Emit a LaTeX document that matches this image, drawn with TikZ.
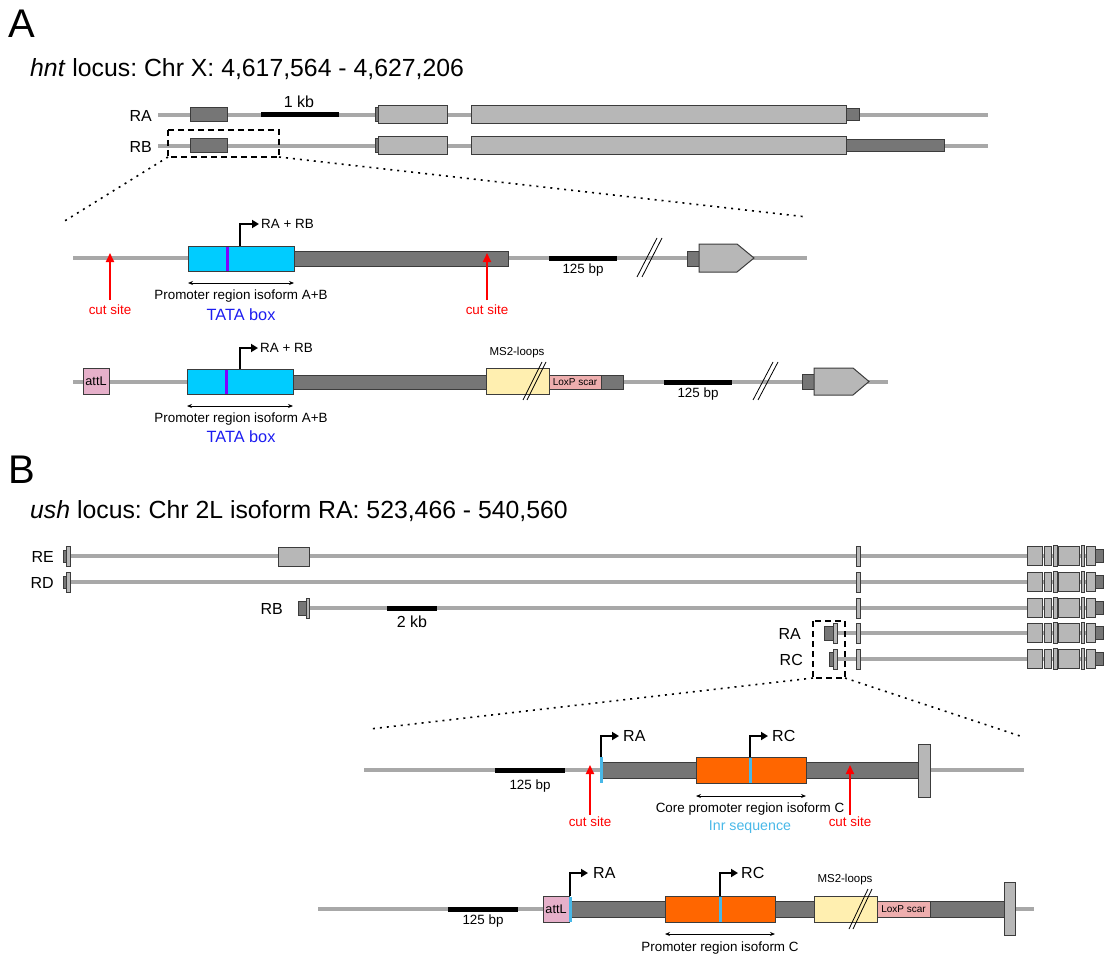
\documentclass[tikz,border=0pt]{standalone}
\usepackage{fontspec}
\setmainfont{Liberation Sans}
\usetikzlibrary{arrows.meta}
\frenchspacing
\definecolor{lgray}{HTML}{A8A8A8}
\definecolor{exl}{HTML}{B7B7B7}
\definecolor{exd}{HTML}{767676}
\definecolor{edge}{HTML}{3C3C3C}
\definecolor{cyanbox}{HTML}{00CCFF}
\definecolor{tata}{HTML}{7F00FF}
\definecolor{tatatext}{HTML}{1C1CF0}
\definecolor{orangebox}{HTML}{FF6600}
\definecolor{inr}{HTML}{48B8E8}
\definecolor{attl}{HTML}{E6B0CA}
\definecolor{loxp}{HTML}{EEAEAE}
\definecolor{ms}{HTML}{FFEFB0}
\definecolor{cutred}{HTML}{FF0000}
\begin{document}
\frenchspacing
\begin{tikzpicture}[x=1pt,y=-1pt,
  gline/.style={draw=lgray,line width=4},
  exonL/.style={fill=exl,draw=edge,line width=1},
  exonD/.style={fill=exd,draw=edge,line width=1},
  scalebar/.style={line width=5,black},
  tss/.style={line width=2,-{Triangle[length=7,width=8]}},
  cut/.style={cutred,line width=2,-{Triangle[length=9,width=8]}},
  span/.style={line width=1,{Stealth[length=5,width=4]}-{Stealth[length=5,width=4]}},
  dotz/.style={dash pattern=on 2 off 5,line width=1.6},
  dashbox/.style={dash pattern=on 6 off 4,line width=1.6},
  brk/.style={line width=0.8},
  t13/.style={inner sep=0,font=\fontsize{13.4}{15}\selectfont},
  t16/.style={inner sep=0,font=\fontsize{16}{18}\selectfont},
  tsmall/.style={inner sep=0,font=\fontsize{11.5}{13}\selectfont},
  tlox/.style={inner sep=0,font=\fontsize{10}{12}\selectfont},
  cuttext/.style={t13,text=cutred},
  big/.style={inner sep=0,anchor=base west,font=\fontsize{40}{42}\selectfont},
  title/.style={inner sep=0,anchor=base west,font=\fontsize{24.8}{28}\selectfont\frenchspacing}]
\useasboundingbox (0,0) rectangle (1109,955);

% ================= A =================
\node[big] (labA) at (8,38) {A};
\node[title] (titA) at (30,77) {\textit{hnt} locus: Chr X: 4,617,564 - 4,627,206};

% RA
\node[t16,anchor=east] (ra) at (152,116) {RA};
\draw[gline] (158,115) -- (988,115);
\draw[exonD] (190,108) rectangle (227,122);
\draw[scalebar] (261,115) -- (339,115);
\node[t16] (kb1) at (299,102) {1 kb};
\draw[exonD] (375,108) rectangle (380,122);
\draw[exonL] (378,106) rectangle (447,124);
\draw[exonL] (471,106) rectangle (846,124);
\draw[exonD] (846,109) rectangle (859,121);
% RB
\node[t16,anchor=east] (rb) at (152,147) {RB};
\draw[gline] (158,146) -- (988,146);
\draw[exonD] (190,139) rectangle (227,153);
\draw[exonD] (375,139) rectangle (380,153);
\draw[exonL] (378,137) rectangle (447,155);
\draw[exonL] (471,137) rectangle (846,155);
\draw[exonD] (846,140) rectangle (944,152);
% zoom box
\draw[dashbox] (168,130) rectangle (279,157);
\coordinate (zA1) at (168,157);
\coordinate (zA2) at (279,157);
\coordinate (zA3) at (63,222);
\coordinate (zA4) at (807,217);
\draw[dotz] (zA1) -- (zA3);
\draw[dotz] (zA2) -- (zA4);

% detail A1
\draw[gline] (73,258) -- (807,258);
\draw[exonD] (294,251) rectangle (508,266);
\draw[fill=cyanbox,draw=edge,line width=1] (188,246) rectangle (294,271);
\draw[tata,line width=3] (227.5,246.5) -- (227.5,270.5);
\draw[scalebar] (549,258) -- (617,258);
\node[t13] (bpA1) at (583,270) {125 bp};
\draw[brk] (637,277) -- (657,238);
\draw[brk] (642,277) -- (662,238);
\draw[exonD] (687,251) rectangle (699,266);
\draw[exonL] (699,244) -- (737,244) -- (754,258) -- (737,272) -- (699,272) -- cycle;
\draw[tss] (240,246) -- (240,224) -- (259,224);
\node[t13,anchor=west] (tssA1) at (261,224) {RA + RB};
\coordinate (cA1a) at (110,300);
\coordinate (cA1b) at (487,300);
\draw[cut] (cA1a) -- (110,253);
\draw[cut] (cA1b) -- (487,253);
\node[cuttext] (csA1) at (110,310) {cut site};
\node[cuttext] (csA2) at (487,310) {cut site};
\draw[span] (188,283) -- (294,283);
\node[t13] (prA1) at (241,296) {Promoter region isoform A+B};
\node[inner sep=0,font=\fontsize{16.3}{18}\selectfont,text=tatatext] (tbA1) at (241,315) {TATA box};

% detail A2
\draw[gline] (73,382) -- (888,382);
\node[draw=edge,fill=attl,line width=1,minimum width=26,minimum height=26,inner sep=0,font=\fontsize{12.6}{14}\selectfont] (attA) at (96,381) {attL};
\draw[exonD] (293,375) rectangle (623,389);
\draw[fill=cyanbox,draw=edge,line width=1] (187,369) rectangle (293,394);
\draw[tata,line width=3] (226.5,369.5) -- (226.5,393.5);
\draw[draw=edge,fill=ms,line width=1] (486,368) rectangle (549,394);
\node[tsmall] (msA) at (517,353) {MS2-loops};
\draw[brk] (523,400) -- (542,362);
\draw[brk] (527,400) -- (546,362);
\node[draw=edge,fill=loxp,line width=1,minimum width=52,minimum height=14,inner sep=0,tlox] (loxA) at (575,382) {LoxP scar};
\draw[scalebar] (664,382) -- (732,382);
\node[t13] (bpA2) at (698,394) {125 bp};
\draw[brk] (753,400) -- (773,362);
\draw[brk] (758,400) -- (778,362);
\draw[exonD] (802,374) rectangle (814,389);
\draw[exonL] (814,368) -- (853,368) -- (869,381.5) -- (853,395) -- (814,395) -- cycle;
\draw[tss] (240,369) -- (240,348) -- (258,348);
\node[t13,anchor=west] (tssA2) at (260,348) {RA + RB};
\draw[span] (187,406) -- (293,406);
\node[t13] (prA2) at (241,419) {Promoter region isoform A+B};
\node[inner sep=0,font=\fontsize{16.3}{18}\selectfont,text=tatatext] (tbA2) at (241,437) {TATA box};

% ================= B =================
\node[big] (labB) at (8,483) {B};
\node[title] (titB) at (30,518) {\textit{ush} locus: Chr 2L isoform RA: 523,466 - 540,560};

\draw[gline] (66,556) -- (1100,556);
\draw[gline] (66,582) -- (1100,582);
\draw[gline] (309,608) -- (1100,608);
\draw[gline] (837,633) -- (1100,633);
\draw[gline] (837,659) -- (1100,659);
\node[t16,anchor=east] (re) at (54,557) {RE};
\node[t16,anchor=east] (rd) at (54,583) {RD};
\node[t16,anchor=east] (rbB) at (283,609) {RB};
\node[t16,anchor=east] (raB) at (801,634) {RA};
\node[t16,anchor=east] (rcB) at (803,660) {RC};
\foreach \yy in {556,582} {
  \draw[exonD] (63,\yy-6) rectangle (66,\yy+6);
  \draw[exonL] (66,\yy-10) rectangle (70,\yy+10);
}
\draw[exonL] (278,547) rectangle (309,566);
\draw[exonD] (298,601) rectangle (306,615);
\draw[exonL] (306,598) rectangle (309,618);
\draw[scalebar] (387,608) -- (437,608);
\node[t16] (kb2) at (412,622) {2 kb};
\draw[exonD] (824,626) rectangle (833,640);
\draw[exonL] (833,623) rectangle (837,643);
\draw[exonD] (829,652) rectangle (833,666);
\draw[exonL] (833,649) rectangle (837,669);
\foreach \yy in {556,582,608,633,659} {
  \draw[exonL] (856,\yy-10) rectangle (860,\yy+10);
  \draw[exonL] (1027,\yy-9.5) rectangle (1042,\yy+9.5);
  \draw[exonL] (1044,\yy-9.5) rectangle (1051,\yy+9.5);
  \draw[exonL] (1053,\yy-10.5) rectangle (1057,\yy+10.5);
  \draw[exonL] (1058,\yy-9.5) rectangle (1079,\yy+9.5);
  \draw[exonL] (1081,\yy-10.5) rectangle (1084,\yy+10.5);
  \draw[exonL] (1086,\yy-9.5) rectangle (1095,\yy+9.5);
  \draw[exonD] (1095,\yy-6.5) rectangle (1103,\yy+6.5);
}
\draw[dashbox] (813,621) rectangle (845,678);
\coordinate (zB1) at (813,678);
\coordinate (zB2) at (845,678);
\coordinate (zB3) at (370,729);
\coordinate (zB4) at (1020,736);
\draw[dotz] (zB1) -- (zB3);
\draw[dotz] (zB2) -- (zB4);

% detail B1
\draw[gline] (364,770) -- (1024,770);
\draw[scalebar] (495,770) -- (565,770);
\node[t13] (bpB1) at (530,786) {125 bp};
\draw[exonD] (601,762) rectangle (918,778);
\draw[fill=orangebox,draw=edge,line width=1] (696,757) rectangle (806,783);
\draw[inr,line width=3] (750,757.5) -- (750,782.5);
\draw[inr,line width=3] (601,757) -- (601,783);
\draw[exonL] (918,744) rectangle (930,797);
\draw[tss] (601,757) -- (601,736) -- (619,736);
\node[t16,anchor=west] (tssB1a) at (623,736) {RA};
\draw[tss] (750,757) -- (750,736) -- (768,736);
\node[t16,anchor=west] (tssB1c) at (772,736) {RC};
\coordinate (cB1a) at (590,815);
\coordinate (cB1b) at (850,815);
\draw[cut] (cB1a) -- (590,765);
\draw[cut] (cB1b) -- (850,765);
\node[cuttext] (csB1) at (590,822) {cut site};
\node[cuttext] (csB2) at (850,822) {cut site};
\draw[span] (696,796) -- (806,796);
\node[t13] (prB1) at (750,809) {Core promoter region isoform C};
\node[inner sep=0,font=\fontsize{14.2}{16}\selectfont,text=inr] (inrB1) at (750,827) {Inr sequence};

% detail B2
\draw[gline] (318,909) -- (1034,909);
\draw[scalebar] (448,909) -- (518,909);
\node[t13] (bpB2) at (483,921) {125 bp};
\draw[exonD] (569,901) rectangle (1004,917);
\node[draw=edge,fill=attl,line width=1,minimum width=26,minimum height=26,inner sep=0,font=\fontsize{12.6}{14}\selectfont] (attB) at (556,909) {attL};
\draw[inr,line width=3] (570,896.5) -- (570,921.5);
\draw[fill=orangebox,draw=edge,line width=1] (665,896) rectangle (775,922);
\draw[inr,line width=3] (720,896.5) -- (720,921.5);
\draw[draw=edge,fill=ms,line width=1] (814,896) rectangle (877,922);
\node[tsmall] (msB) at (845,880) {MS2-loops};
\draw[brk] (849,929) -- (868,889);
\draw[brk] (853,929) -- (872,889);
\node[draw=edge,fill=loxp,line width=1,minimum width=53,minimum height=16,inner sep=0,tlox] (loxB) at (903.5,909) {LoxP scar};
\draw[exonL] (1004,882) rectangle (1015,935);
\draw[tss] (570,896) -- (570,873) -- (588,873);
\node[t16,anchor=west] (tssB2a) at (593,873) {RA};
\draw[tss] (720,896) -- (720,873) -- (738,873);
\node[t16,anchor=west] (tssB2c) at (741,873) {RC};
\draw[span] (665,934) -- (775,934);
\node[t13] (prB2) at (720,948) {Promoter region isoform C};
\end{tikzpicture}
\end{document}
